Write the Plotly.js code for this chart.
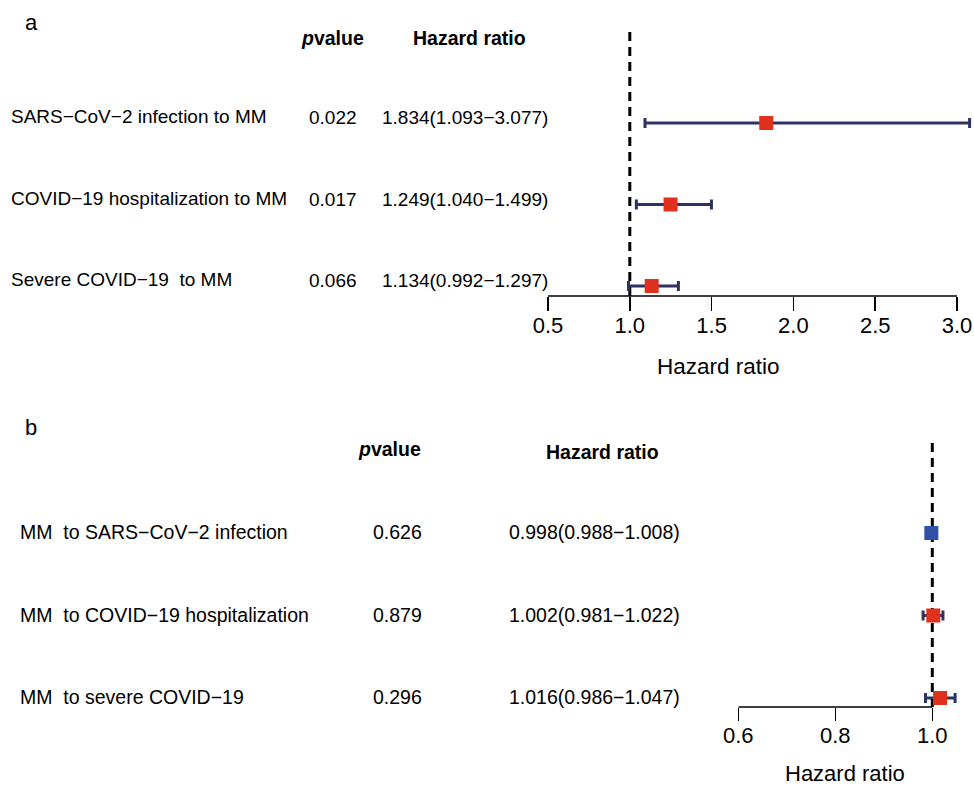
<!DOCTYPE html>
<html>
<head>
<meta charset="utf-8">
<script src="https://cdn.plot.ly/plotly-3.0.1.min.js"></script>
<style>html,body{margin:0;padding:0;background:#fff;}#chart{width:974px;height:788px;}</style>
</head>
<body>
<div id="chart"></div>
<script>
// ---- Panel a data ----
const labelsA = ["SARS\u2212CoV\u22122 infection to MM", "COVID\u221219 hospitalization to MM", "Severe COVID\u221219 \u00A0to MM"];
const pvalsA = ["0.022", "0.017", "0.066"];
const hrA = [1.834, 1.249, 1.134];
const lowA = [1.093, 1.040, 0.992];
const highA = [3.077, 1.499, 1.297];
const ticksA = [0.5, 1.0, 1.5, 2.0, 2.5, 3.0];

// ---- Panel b data ----
const labelsB = ["MM \u00A0to SARS\u2212CoV\u22122 infection", "MM \u00A0to COVID\u221219 hospitalization", "MM \u00A0to severe COVID\u221219"];
const pvalsB = ["0.626", "0.879", "0.296"];
const hrB = [0.998, 1.002, 1.016];
const lowB = [0.988, 0.981, 0.986];
const highB = [1.008, 1.022, 1.047];
const ticksB = [0.6, 0.8, 1.0];

const rowsY = [3, 2, 1];
const RED = "#E0301E", BLUE = "#2F50A6", NAVY = "#2D3262";
const FONT = "Liberation Sans, Arial, sans-serif";

function hrText(h, l, u) { return h.toFixed(3) + "(" + l.toFixed(3) + "\u2212" + u.toFixed(3) + ")"; }
function colorsFor(h) { return h.map(v => v < 1 ? BLUE : RED); }

const W = 974, H = 788;
const px = x => x / W, py = y => 1 - y / H;

const traceA = {
  x: hrA, y: rowsY, xaxis: "x", yaxis: "y", type: "scatter", mode: "markers",
  marker: { symbol: "square", size: 14, color: colorsFor(hrA) },
  error_x: { type: "data", symmetric: false, array: hrA.map((v, i) => highA[i] - v), arrayminus: hrA.map((v, i) => v - lowA[i]), color: NAVY, thickness: 3, width: 5 },
  cliponaxis: false, hoverinfo: "skip", showlegend: false
};
const traceB = {
  x: hrB, y: rowsY, xaxis: "x2", yaxis: "y2", type: "scatter", mode: "markers",
  marker: { symbol: "square", size: 14, color: colorsFor(hrB) },
  error_x: { type: "data", symmetric: false, array: hrB.map((v, i) => highB[i] - v), arrayminus: hrB.map((v, i) => v - lowB[i]), color: NAVY, thickness: 3, width: 5 },
  cliponaxis: false, hoverinfo: "skip", showlegend: false
};

const annotations = [];
function txt(text, x, xanchor, yref, y, size, yshift, yanchor) {
  annotations.push({ text: text, xref: "paper", x: x, xanchor: xanchor, yref: yref, y: y, yanchor: yanchor || "middle", yshift: yshift || 0, showarrow: false, font: { family: FONT, size: size, color: "#000" } });
}
// panel letters
txt("a", px(23), "left", "paper", py(22), 22);
txt("b", px(23), "left", "paper", py(428), 22);
// headers a
txt("<b><i>p</i>value</b>", px(332), "center", "paper", py(38), 19.5);
txt("<b>Hazard ratio</b>", px(469), "center", "paper", py(38), 19.5);
// headers b
txt("<b><i>p</i>value</b>", px(423), "right", "paper", py(449), 19.5);
txt("<b>Hazard ratio</b>", px(602), "center", "paper", py(452), 19.5);
// rows a
labelsA.forEach((l, i) => {
  txt(l, px(9), "left", "y", rowsY[i], 19, 6);
  txt(pvalsA[i], px(333), "center", "y", rowsY[i], 19, 5);
  txt(hrText(hrA[i], lowA[i], highA[i]), px(465), "center", "y", rowsY[i], 19, 5);
});
// rows b
labelsB.forEach((l, i) => {
  txt(l, px(18), "left", "y2", rowsY[i], 19.5, 1);
  txt(pvalsB[i], px(424), "right", "y2", rowsY[i], 19.5, 1);
  txt(hrText(hrB[i], lowB[i], highB[i]), px(682), "right", "y2", rowsY[i], 19.5, 1);
});
// axis titles
txt("Hazard ratio", px(718), "center", "paper", py(366), 22.5);
txt("Hazard ratio", px(845), "center", "paper", 0, 22, 0, "bottom");

const shapes = [
  { type: "line", xref: "x", yref: "y domain", x0: ticksA[0], x1: ticksA[ticksA.length - 1], y0: 0, y1: 0, line: { color: "#000", width: 1.5 }, layer: "below" },
  { type: "line", xref: "x", yref: "y domain", x0: 1, x1: 1, y0: 0, y1: 1, line: { color: "#000", width: 3, dash: "9px,6px" }, layer: "below" },
  { type: "line", xref: "x2", yref: "y2 domain", x0: ticksB[0], x1: ticksB[ticksB.length - 1], y0: 0, y1: 0, line: { color: "#000", width: 1.5 }, layer: "below" },
  { type: "line", xref: "x2", yref: "y2 domain", x0: 1, x1: 1, y0: 0, y1: 1, line: { color: "#000", width: 3, dash: "9px,6px" }, layer: "below" }
];

// pixel geometry
const aX0 = 548, aUnit = 163.6; // 0.5 at 548
const aRange = [0.5, 3.1];
const bX0 = 738.3, bUnit = 485;
const bRange = [0.6, 1.08];

const axisCommon = {
  showgrid: false, zeroline: false, showline: false, ticks: "outside", tickcolor: "#000", tickwidth: 1.5,
  tickfont: { family: FONT, size: 22, color: "#000" }, tickmode: "array", fixedrange: true,
  ticklabelstandoff: -4
};

const layout = {
  width: W, height: H, margin: { l: 0, r: 0, t: 0, b: 0 },
  paper_bgcolor: "#fff", plot_bgcolor: "rgba(0,0,0,0)",
  xaxis: Object.assign({}, axisCommon, {
    domain: [px(aX0), px(aX0 + (aRange[1] - aRange[0]) * aUnit)], range: aRange, anchor: "y",
    tickvals: ticksA, ticktext: ticksA.map(v => v.toFixed(1)), ticklen: 14
  }),
  yaxis: { domain: [py(296), py(30)], range: [0.877, 4.141], visible: false, anchor: "x", fixedrange: true },
  xaxis2: Object.assign({}, axisCommon, {
    domain: [px(bX0), px(bX0 + (bRange[1] - bRange[0]) * bUnit)], range: bRange, anchor: "y2",
    tickvals: ticksB, ticktext: ticksB.map(v => v.toFixed(1)), ticklen: 13
  }),
  yaxis2: { domain: [py(707), py(440)], range: [0.891, 4.127], visible: false, anchor: "x2", fixedrange: true },
  shapes: shapes, annotations: annotations, showlegend: false
};

Plotly.newPlot("chart", [traceA, traceB], layout, { displayModeBar: false, staticPlot: true });
</script>
</body>
</html>
